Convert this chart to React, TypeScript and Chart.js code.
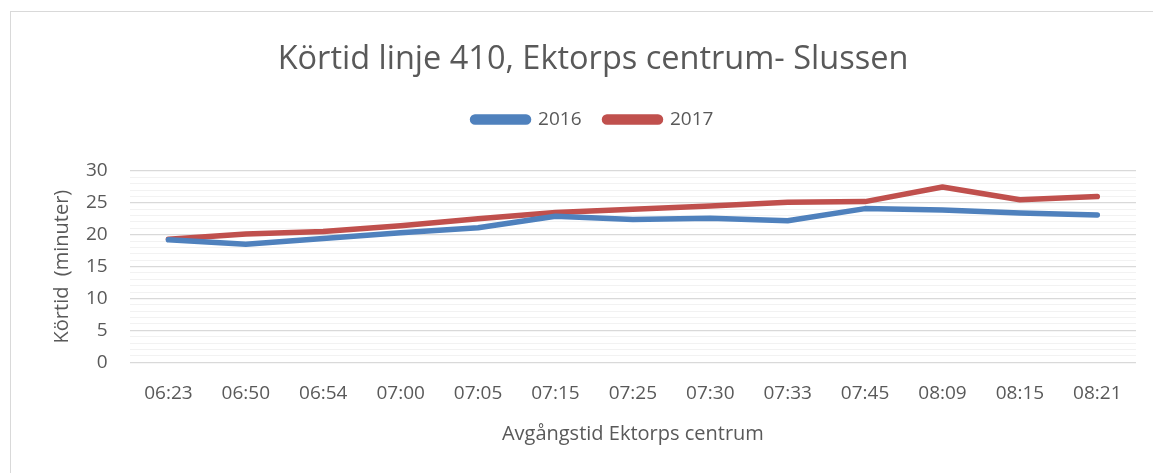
import React, { useEffect, useRef } from "react";
import { Chart, registerables } from "chart.js";

Chart.register(...registerables);

const categories = ["06:23", "06:50", "06:54", "07:00", "07:05", "07:15", "07:25", "07:30", "07:33", "07:45", "08:09", "08:15", "08:21"];
const values2016 = [19.2, 18.5, 19.4, 20.3, 21.1, 22.9, 22.4, 22.6, 22.2, 24.1, 23.9, 23.4, 23.1];
const values2017 = [19.3, 20.1, 20.5, 21.4, 22.5, 23.5, 24.0, 24.5, 25.1, 25.2, 27.5, 25.5, 26.0];
const yTickLabels = [0, 5, 10, 15, 20, 25, 30];

const TEXT = "#595959";
const FONT = "'Open Sans', sans-serif";

const legendSpacer = {
  id: "legendSpacer",
  beforeInit(chart: any) {
    const legend = chart.legend;
    if (!legend) return;
    const origFit = legend.fit;
    legend.fit = function () {
      origFit.call(this);
      this.height += 32;
    };
  },
};

export default function App() {
  const ref = useRef<HTMLCanvasElement | null>(null);
  useEffect(() => {
    if (!ref.current) return;
    const chart = new Chart(ref.current, {
      type: "line",
      data: {
        labels: categories,
        datasets: [
          { label: "2016", data: values2016, borderColor: "#4f81bd", backgroundColor: "#4f81bd", borderWidth: 5.5, pointRadius: 0, borderCapStyle: "round", borderJoinStyle: "round", tension: 0 },
          { label: "2017", data: values2017, borderColor: "#c0504d", backgroundColor: "#c0504d", borderWidth: 5.5, pointRadius: 0, borderCapStyle: "round", borderJoinStyle: "round", tension: 0 },
        ],
      },
      plugins: [legendSpacer],
      options: {
        animation: false,
        responsive: false,
        maintainAspectRatio: false,
        layout: { padding: { top: 0, right: 17, left: 50, bottom: 27 } },
        plugins: {
          title: {
            display: true,
            text: "Körtid linje 410, Ektorps centrum- Slussen",
            color: TEXT,
            font: { family: FONT, size: 32.5, weight: "normal" },
            padding: { top: 40, bottom: 8 },
          },
          legend: {
            display: true,
            position: "top",
            labels: {
              color: TEXT,
              font: { family: FONT, size: 19 },
              boxWidth: 56,
              boxHeight: 5,
              useBorderRadius: true,
              borderRadius: 2.5,
              padding: 23,
            },
          },
          tooltip: { enabled: false },
        },
        scales: {
          x: {
            offset: true,
            grid: { display: false },
            border: { display: false },
            ticks: { color: TEXT, font: { family: FONT, size: 19 }, padding: 12, maxRotation: 0, autoSkip: false },
            title: { display: true, text: "Avgångstid Ektorps centrum", color: TEXT, font: { family: FONT, size: 20 }, padding: { top: 5, bottom: 0 } },
          },
          y: {
            min: 0,
            max: 30,
            border: { display: false },
            grid: {
              drawTicks: false,
              color: (ctx: any) => (yTickLabels.includes(ctx.tick.value) ? "#d9d9d9" : "#f2f2f2"),
              lineWidth: (ctx: any) => (yTickLabels.includes(ctx.tick.value) ? 1.3 : 1),
            },
            ticks: {
              stepSize: 1,
              autoSkip: false,
              color: TEXT,
              font: { family: FONT, size: 19 },
              padding: 22,
              callback: (v: any) => (yTickLabels.includes(Number(v)) ? String(v) : ""),
            },
            title: { display: true, text: "Körtid  (minuter)", color: TEXT, font: { family: FONT, size: 20 }, padding: { top: 0, bottom: -10 } },
          },
        },
      },
    });
    return () => chart.destroy();
  }, []);
  return (
    <div style={{ position: "absolute", left: 0, top: 0, width: 1153, height: 473, background: "#fff", overflow: "hidden" }}>
      <div style={{ position: "absolute", left: 10, top: 11, width: 1200, height: 500, borderLeft: "1.5px solid #d9d9d9", borderTop: "1.5px solid #d9d9d9" }} />
      <canvas ref={ref} width={1153} height={473} style={{ position: "absolute", left: 0, top: 0 }} />
    </div>
  );
}
